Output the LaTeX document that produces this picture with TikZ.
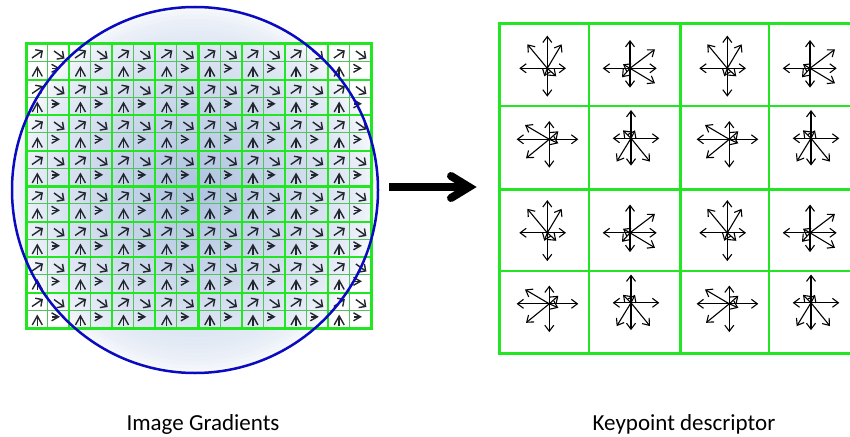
\documentclass[tikz,border=0pt]{standalone}
\usepackage{fontspec}
\setmainfont{Carlito}
\usetikzlibrary{arrows.meta}

\definecolor{gridgreen}{HTML}{22E622}
\definecolor{cellgreen}{HTML}{55C060}
\definecolor{ringblue}{HTML}{0A0AC0}
\definecolor{glyphgray}{HTML}{22262E}
\definecolor{hazein}{HTML}{AEC3E0}
\definecolor{hazeout}{HTML}{F6F8FC}

\tikzset{
  cellline/.style={draw=cellgreen, line width=0.9pt},
  blockline/.style={draw=gridgreen, line width=2pt},
  mainline/.style={draw=gridgreen, line width=3pt},
  gradarrow/.style={draw=glyphgray, line width=1.4pt},
  binarrow/.style={draw=black, line width=1.1pt, -{Straight Barb[length=6pt,width=9pt]}},
  labeltext/.style={font=\fontsize{23}{28}\selectfont, anchor=base}
}

\begin{document}
\begin{tikzpicture}[x=1pt, y=-1pt]
\useasboundingbox (0,0) rectangle (850,436);

% weighting window, rings from the rim inwards
\coordinate (window) at (195,190);
\foreach \r [evaluate=\r as \p using {int(100*(1-\r/183)^0.7)}] in {183,179,...,3}
  \fill[hazein!\p!hazeout] (window) circle[radius=\r];

% image gradient cells
\foreach \i in {0,...,16} {
  \draw[cellline] (26+\i*21.5625,44) -- (26+\i*21.5625,328);
  \draw[cellline] (26,44+\i*17.75) -- (371,44+\i*17.75);
}
\foreach \i in {0,2,...,16} {
  \draw[blockline] (26+\i*21.5625,44) -- (26+\i*21.5625,328);
  \draw[blockline] (26,44+\i*17.75) -- (371,44+\i*17.75);
}
\draw[mainline] (198.5,44) -- (198.5,328);
\draw[mainline] (26,186) -- (371,186);
\draw[mainline] (26,44) rectangle (371,328);

% gradient glyphs, one 2x2 block at a time
\foreach \bi in {0,...,7}
  \foreach \bj in {0,...,7} {
    \begin{scope}[shift={(26+\bi*43.125,44+\bj*35.5)}]
      \draw[gradarrow, -{Straight Barb[length=5pt,width=10pt]}] (6,14) -- (17,6.5);
      \draw[gradarrow, -{Straight Barb[length=5pt,width=10pt]}] (28,7) -- (38.5,14.5);
      \draw[gradarrow, -{Straight Barb[length=9pt,width=10pt]}] (11.3,33) -- (11.3,22);
      \draw[gradarrow, -{Straight Barb[length=7pt,width=8pt]}] (26,24.3) -- (34,24.3);
    \end{scope}
  }

\draw[ringblue, line width=2.5pt] (window) circle[radius=183];

% big arrow
\coordinate (arrowtail) at (389,187);
\coordinate (arrowtip) at (469,187);
\draw[line width=8pt] (arrowtail) -- (arrowtip);
\draw[line width=8pt, line cap=round, line join=miter] ([shift={(-18,-11)}]arrowtip) -- (arrowtip) -- ([shift={(-18,11)}]arrowtip);

% descriptor cells
\draw[gridgreen, line width=1.5pt] (589,24) -- (589,353);
\draw[gridgreen, line width=1.5pt] (769,24) -- (769,353);
\draw[gridgreen, line width=1.5pt] (499,106) -- (860,106);
\draw[gridgreen, line width=1.5pt] (499,271) -- (860,271);
\draw[mainline] (680,24) -- (680,353);
\draw[mainline] (499,189) -- (860,189);
\draw[mainline] (499,24) rectangle (859,353);

% orientation histograms
\foreach \bi in {0,1}
  \foreach \bj in {0,1} {
    \begin{scope}[shift={(499+\bi*180,24+\bj*164.5)}]
      \foreach \dx/\dy in {0/-32.7, 14.3/-24, -20/-24, -28/0, 18.7/0, 0/28.3, -3/8, 9/8}
        \draw[binarrow] (48.3,44.3) -- ++(\dx,\dy);
      \foreach \dx/\dy in {0/-28.3, 25/-19, 26.7/0, 25/15, 0/19.3, -27.3/0, -8/9, -7/-4}
        \draw[binarrow] (131,44.3) -- ++(\dx,\dy);
      \foreach \dx/\dy in {0/-18.3, -24.3/-14.3, -32.7/0, -23.3/19, 0/28.3, 29/0, 9/-8, 9/4}
        \draw[binarrow] (50.3,115.3) -- ++(\dx,\dy);
      \foreach \dx/\dy in {0/-28.3, 28.3/0, 19/23.3, 0/27.3, -14.3/23.3, -18.3/0, -8/-8, 4/-8}
        \draw[binarrow] (132,114.3) -- ++(\dx,\dy);
    \end{scope}
  }

% captions
\node[labeltext] (gradlabel) at (203,430) {Image Gradients};
\node[labeltext] (desclabel) at (684,430) {Keypoint descriptor};

\end{tikzpicture}
\end{document}
